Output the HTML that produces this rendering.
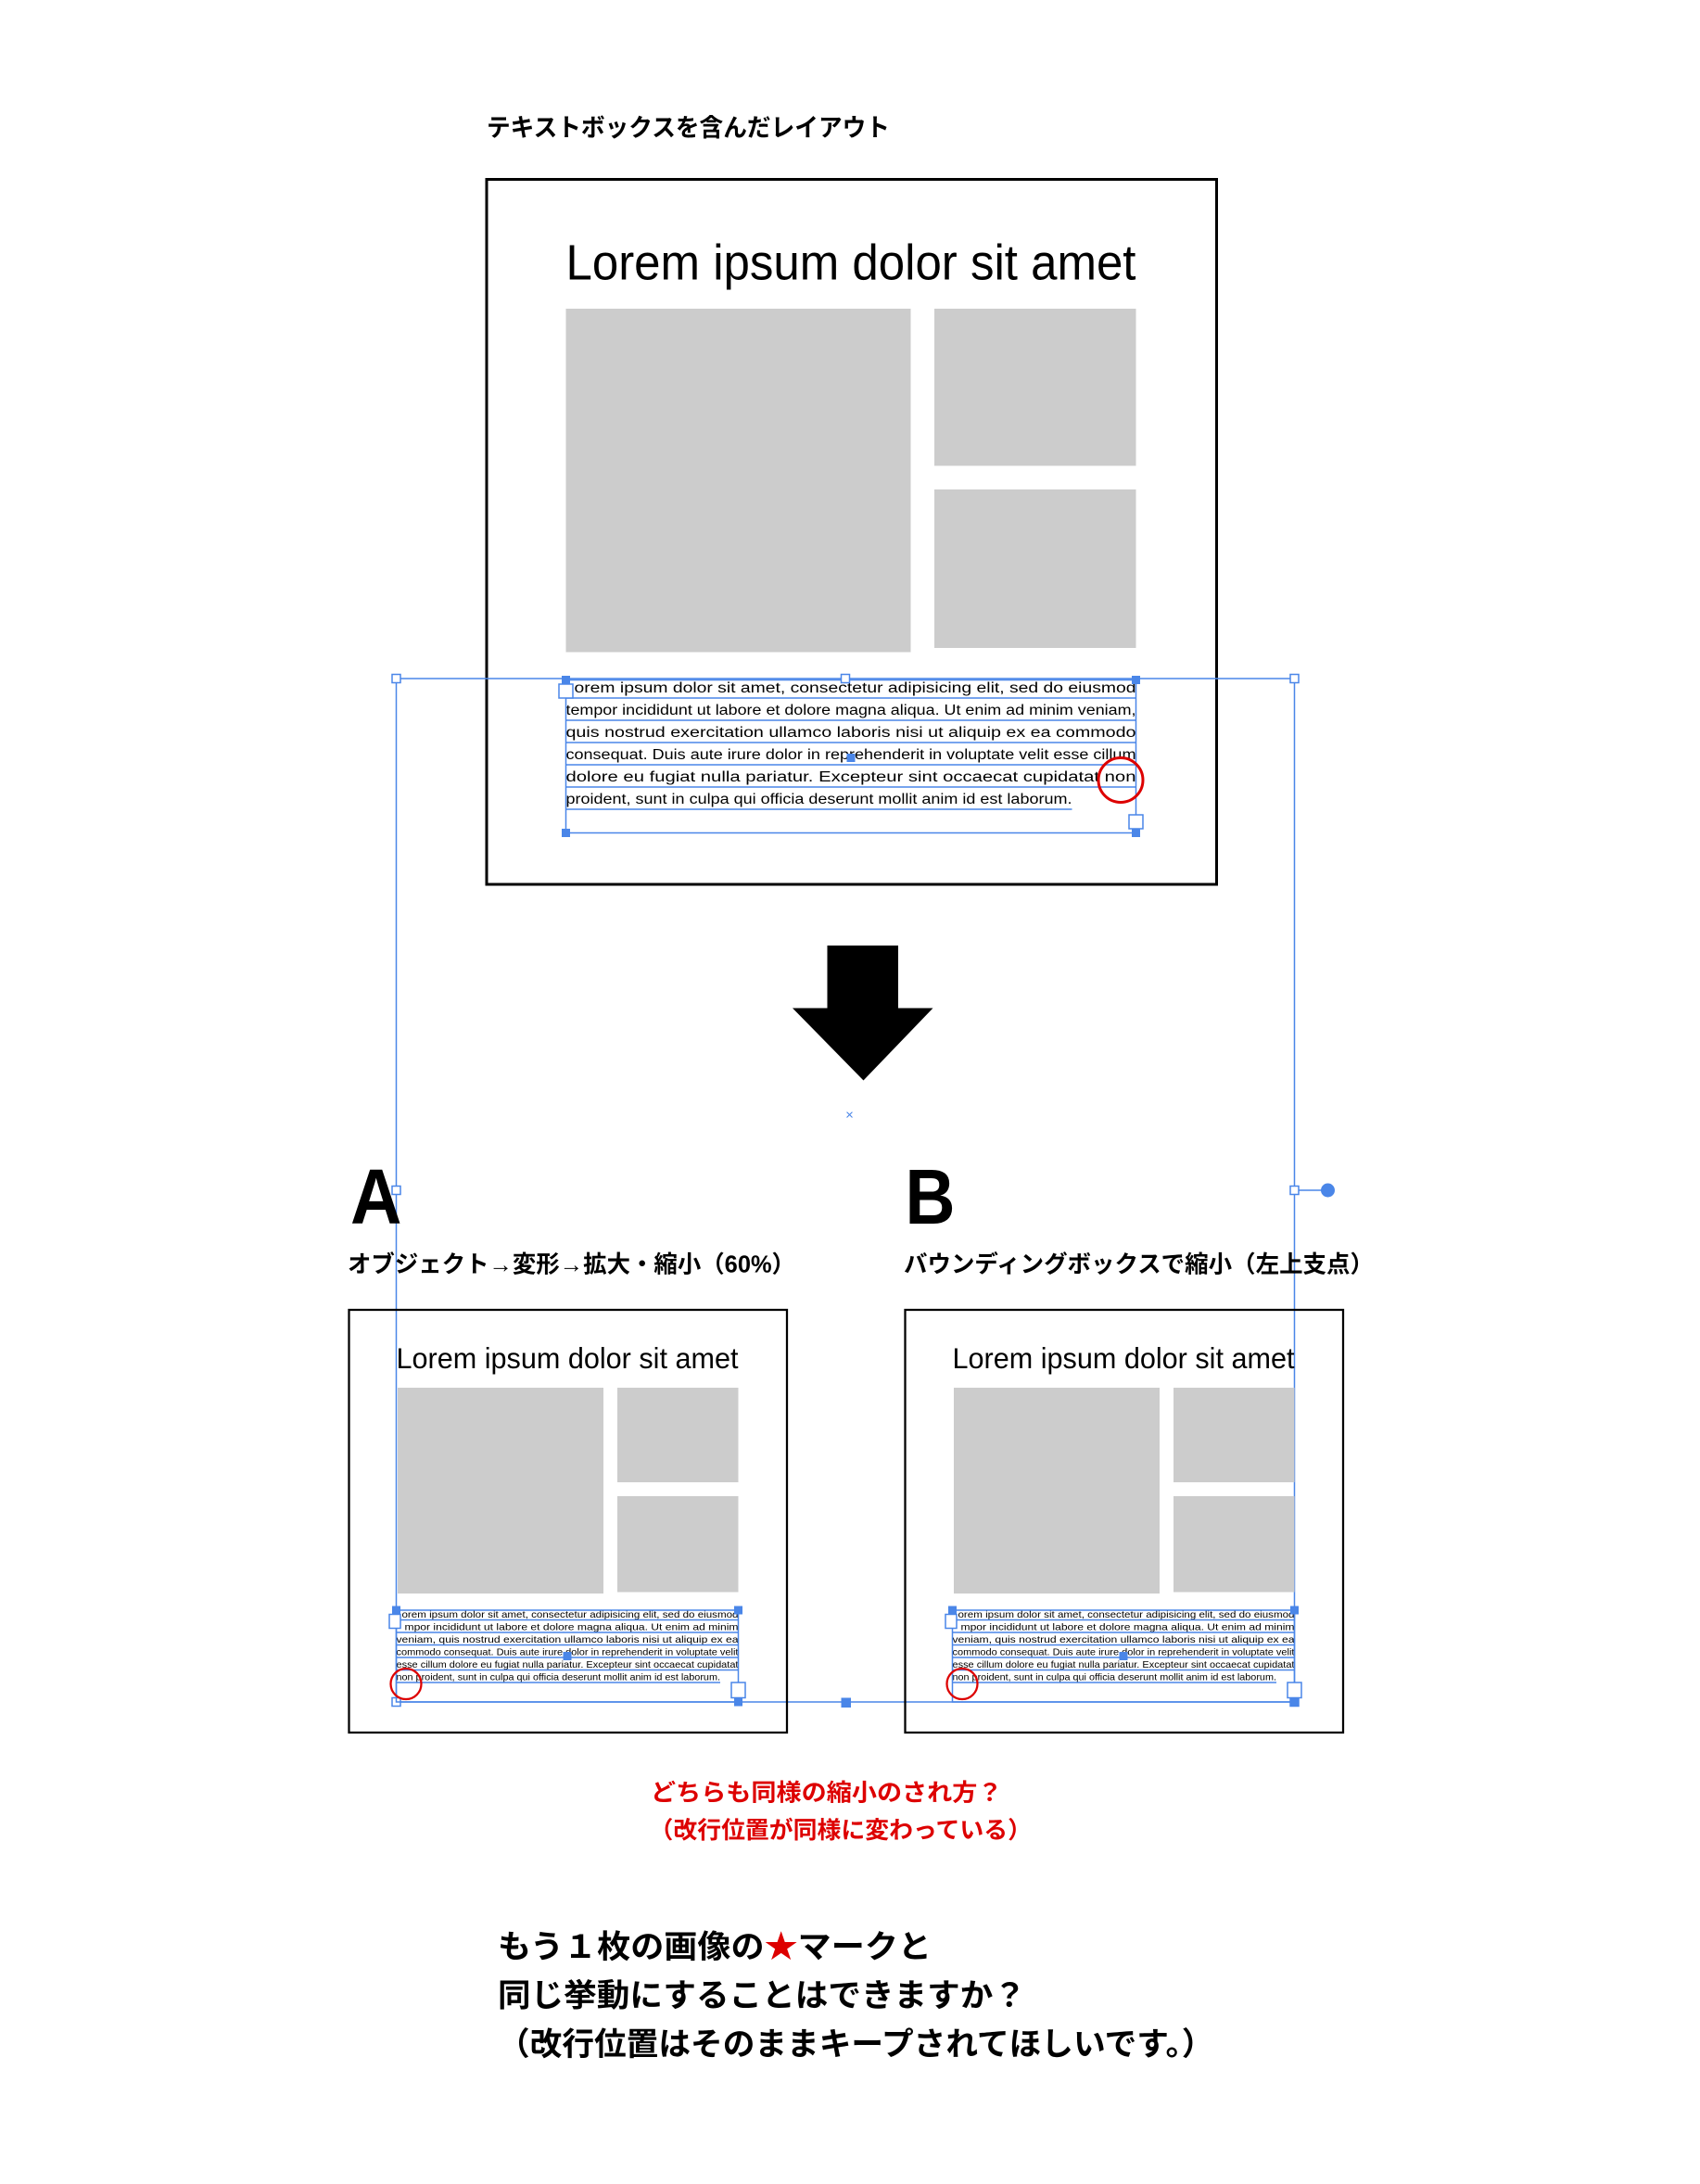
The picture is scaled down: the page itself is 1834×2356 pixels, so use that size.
<!DOCTYPE html>
<html><head><meta charset="utf-8"><style>html,body{margin:0;padding:0;background:#fff}svg{display:block}</style></head><body>
<svg width="1834" height="2356" viewBox="0 0 1222.67 1570.67" xmlns="http://www.w3.org/2000/svg" font-family="Liberation Sans, Noto Sans CJK JP, sans-serif">
<rect width="1222.67" height="1570.67" fill="#fff"/>
<text x="350" y="98" font-size="18" font-weight="bold" textLength="290" lengthAdjust="spacingAndGlyphs">テキストボックスを含んだレイアウト</text>
<rect x="350" y="129" width="525" height="507" fill="none" stroke="#000" stroke-width="2"/>
<text x="407" y="201" font-size="36" textLength="410" lengthAdjust="spacingAndGlyphs">Lorem ipsum dolor sit amet</text>
<g fill="#ccc"><rect x="407" y="222" width="248" height="247"/><rect x="672" y="222" width="145" height="113"/><rect x="672" y="352" width="145" height="114"/></g>
<g font-size="10.5" fill="#000">
<text x="413" y="498" textLength="404" lengthAdjust="spacingAndGlyphs">orem ipsum dolor sit amet, consectetur adipisicing elit, sed do eiusmod</text>
<text x="407" y="514" textLength="410" lengthAdjust="spacingAndGlyphs">tempor incididunt ut labore et dolore magna aliqua. Ut enim ad minim veniam,</text>
<text x="407" y="530" textLength="410" lengthAdjust="spacingAndGlyphs">quis nostrud exercitation ullamco laboris nisi ut aliquip ex ea commodo</text>
<text x="407" y="546" textLength="410" lengthAdjust="spacingAndGlyphs">consequat. Duis aute irure dolor in reprehenderit in voluptate velit esse cillum</text>
<text x="407" y="562" textLength="410" lengthAdjust="spacingAndGlyphs">dolore eu fugiat nulla pariatur. Excepteur sint occaecat cupidatat non</text>
<text x="407" y="578" textLength="364" lengthAdjust="spacingAndGlyphs">proident, sunt in culpa qui officia deserunt mollit anim id est laborum.</text>
</g>
<g stroke="#4a86e8" stroke-width="1" fill="none">
<path d="M407 502H817M407 518H817M407 534H817M407 550H817M407 566H817M407 582H771"/>
<rect x="407" y="489" width="410" height="110"/>
<rect x="285" y="488" width="646" height="736"/>
<line x1="931" y1="856" x2="955" y2="856"/>
</g>
<g fill="#4a86e8"><rect x="404" y="486" width="6" height="6"/><rect x="814" y="486" width="6" height="6"/><rect x="404" y="596" width="6" height="6"/><rect x="814" y="596" width="6" height="6"/><rect x="609" y="542" width="6" height="6"/><circle cx="955" cy="856" r="5"/></g>
<g fill="#fff" stroke="#4a86e8" stroke-width="1"><rect x="402" y="492" width="10" height="10"/><rect x="812" y="586" width="10" height="10"/>
<rect x="282" y="485" width="6" height="6"/><rect x="605" y="485" width="6" height="6"/><rect x="928" y="485" width="6" height="6"/><rect x="282" y="853" width="6" height="6"/><rect x="928" y="853" width="6" height="6"/><rect x="282" y="1221" width="6" height="6"/><rect x="928" y="1221" width="6" height="6"/></g>
<rect x="605" y="1221" width="7" height="7" fill="#4a86e8"/>
<circle cx="806" cy="561" r="16" fill="none" stroke="#d00" stroke-width="2"/>
<polygon points="595,680 646,680 646,725 671,725 621,777 570,725 595,725" fill="#000"/>
<text x="611" y="805" font-size="10" fill="#4a86e8" text-anchor="middle">×</text>
<text x="252" y="880" font-size="56" font-weight="bold" textLength="37" lengthAdjust="spacingAndGlyphs">A</text>
<text x="651" y="880" font-size="56" font-weight="bold" textLength="36" lengthAdjust="spacingAndGlyphs">B</text>
<text x="250" y="915" font-size="17" font-weight="bold" textLength="322" lengthAdjust="spacingAndGlyphs">オブジェクト→変形→拡大・縮小（60%）</text>
<text x="650" y="915" font-size="17" font-weight="bold" textLength="338" lengthAdjust="spacingAndGlyphs">バウンディングボックスで縮小（左上支点）</text>
<defs><g id="small">
<rect x="251" y="942" width="315" height="304" fill="none" stroke="#000" stroke-width="1.5"/>
<text x="285" y="984" font-size="21" textLength="246" lengthAdjust="spacingAndGlyphs">Lorem ipsum dolor sit amet</text>
<g fill="#ccc"><rect x="286" y="998" width="148" height="148"/><rect x="444" y="998" width="87" height="68"/><rect x="444" y="1076" width="87" height="69"/></g>
<g font-size="6.5" fill="#000">
<text x="289" y="1163.5" textLength="242" lengthAdjust="spacingAndGlyphs">orem ipsum dolor sit amet, consectetur adipisicing elit, sed do eiusmod</text>
<text x="291" y="1172.5" textLength="240" lengthAdjust="spacingAndGlyphs">mpor incididunt ut labore et dolore magna aliqua. Ut enim ad minim</text>
<text x="285" y="1181.5" textLength="246" lengthAdjust="spacingAndGlyphs">veniam, quis nostrud exercitation ullamco laboris nisi ut aliquip ex ea</text>
<text x="285" y="1190.5" textLength="246" lengthAdjust="spacingAndGlyphs">commodo consequat. Duis aute irure dolor in reprehenderit in voluptate velit</text>
<text x="285" y="1199.5" textLength="246" lengthAdjust="spacingAndGlyphs">esse cillum dolore eu fugiat nulla pariatur. Excepteur sint occaecat cupidatat</text>
<text x="285" y="1208.5" textLength="233" lengthAdjust="spacingAndGlyphs">non proident, sunt in culpa qui officia deserunt mollit anim id est laborum.</text>
</g>
<g stroke="#4a86e8" stroke-width="1" fill="none">
<path d="M285 1165H531M285 1174H531M285 1183H531M285 1192H531M285 1201H531M285 1210H518"/>
<rect x="285" y="1158" width="246" height="66"/>
</g>
<g fill="#4a86e8"><rect x="282" y="1155" width="6" height="6"/><rect x="528" y="1155" width="6" height="6"/><rect x="528" y="1221" width="6" height="6"/><rect x="405" y="1188" width="6" height="6"/></g>
<g fill="#fff" stroke="#4a86e8"><rect x="280" y="1161" width="8" height="10"/><rect x="526" y="1210" width="10" height="11"/></g>
<circle cx="292" cy="1211" r="11" fill="none" stroke="#d00" stroke-width="1.5"/>
</g></defs>
<use href="#small"/>
<use href="#small" transform="translate(400,0)"/>
<g fill="#d00" font-size="17" font-weight="bold">
<text x="468" y="1295" textLength="253" lengthAdjust="spacingAndGlyphs">どちらも同様の縮小のされ方？</text>
<text x="467" y="1322" textLength="275" lengthAdjust="spacingAndGlyphs">（改行位置が同様に変わっている）</text>
</g>
<g font-size="23" font-weight="bold" fill="#000">
<text x="358" y="1408" textLength="312" lengthAdjust="spacingAndGlyphs">もう１枚の画像の<tspan fill="#d00">★</tspan>マークと</text>
<text x="358" y="1443" textLength="380" lengthAdjust="spacingAndGlyphs">同じ挙動にすることはできますか？</text>
<text x="358" y="1478" textLength="515" lengthAdjust="spacingAndGlyphs">（改行位置はそのままキープされてほしいです。）</text>
</g>
</svg>
</body></html>
